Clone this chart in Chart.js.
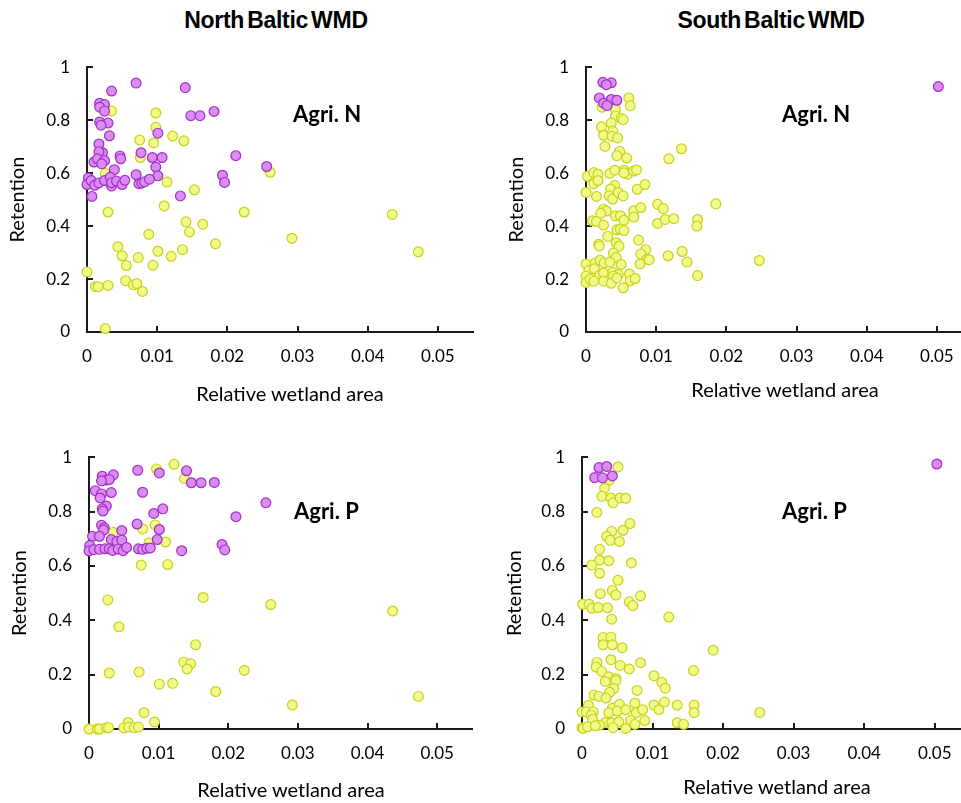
<!DOCTYPE html>
<html>
<head>
<meta charset="utf-8">
<title>Retention vs relative wetland area</title>
<script src="https://cdn.jsdelivr.net/npm/chart.js@4.4.1/dist/chart.umd.min.js"></script>
<style>
  body { margin: 0; width: 961px; height: 803px; overflow: hidden; background: #fff; position: relative; font-family: Lato, sans-serif; }
  canvas { position: absolute; }
  .title { position: absolute; font-family: 'Liberation Sans', Arial, sans-serif; font-weight: bold; font-size: 23px; word-spacing: -3px; letter-spacing: -0.3px; transform: translate(-50%, -50%); white-space: nowrap; color: #000; }
  .tag { position: absolute; font-family: Lato, sans-serif; font-weight: bold; font-size: 22px; line-height: 22px; white-space: nowrap; color: #000; }
  .xtitle { position: absolute; font-family: Lato, sans-serif; font-size: 20px; line-height: 24px; transform: translate(-50%, -50%); white-space: nowrap; color: #000; }
</style>
</head>
<body>

<div class="title" style="left:276px; top:20px;">North Baltic WMD</div>
<div class="title" style="left:771px; top:20px;">South Baltic WMD</div>

<canvas id="northN" width="480" height="380" style="left:0px; top:40px;"></canvas>
<canvas id="southN" width="490" height="380" style="left:490px; top:40px;"></canvas>
<canvas id="northP" width="480" height="373" style="left:0px; top:430px;"></canvas>
<canvas id="southP" width="490" height="373" style="left:490px; top:430px;"></canvas>

<div class="tag" style="left:293px; top:103px;">Agri. N</div>
<div class="tag" style="left:782px; top:103px;">Agri. N</div>
<div class="tag" style="left:294px; top:500px;">Agri. P</div>
<div class="tag" style="left:782px; top:500px;">Agri. P</div>

<div class="xtitle" style="left:290px; top:393px;">Relative wetland area</div>
<div class="xtitle" style="left:785px; top:389px;">Relative wetland area</div>
<div class="xtitle" style="left:291px; top:789px;">Relative wetland area</div>
<div class="xtitle" style="left:777px; top:786px;">Relative wetland area</div>

<script>
// tick labels
const xTicks = [0, 0.01, 0.02, 0.03, 0.04, 0.05];
const yTicks = [0, 0.2, 0.4, 0.6, 0.8, 1];

// [relative wetland area, retention]
// purple = high retention group, yellow = the rest

// North Baltic, Agri. N
const northN_purple = [
  [0.0070,0.940],[0.0140,0.923],[0.0035,0.910],[0.0018,0.864],[0.0025,0.859],[0.0018,0.849],
  [0.0025,0.834],[0.0148,0.817],[0.0161,0.817],[0.0181,0.833],[0.0018,0.793],[0.0030,0.789],
  [0.0020,0.781],[0.0101,0.751],[0.0032,0.741],[0.0017,0.710],[0.0022,0.677],[0.0017,0.681],
  [0.0010,0.642],[0.0015,0.654],[0.0025,0.647],[0.0021,0.635],[0.0047,0.665],[0.0048,0.654],
  [0.0077,0.677],[0.0093,0.659],[0.0107,0.659],[0.0098,0.623],[0.0039,0.613],[0.0212,0.666],
  [0.0256,0.625],[0.0070,0.594],[0.0101,0.590],[0.0193,0.592],[0.0196,0.565],[0.0002,0.582],
  [0.0000,0.557],[0.0006,0.572],[0.0011,0.554],[0.0017,0.563],[0.0025,0.572],[0.0033,0.584],
  [0.0035,0.551],[0.0035,0.564],[0.0042,0.570],[0.0050,0.557],[0.0054,0.573],[0.0074,0.560],
  [0.0078,0.563],[0.0082,0.567],[0.0089,0.577],[0.0007,0.512],[0.0133,0.514]
];
const northN_yellow = [
  [0.0035,0.835],[0.0098,0.827],[0.0098,0.773],[0.0075,0.725],[0.0095,0.714],[0.0122,0.740],
  [0.0138,0.722],[0.0076,0.659],[0.0026,0.599],[0.0114,0.566],[0.0153,0.537],[0.0030,0.453],
  [0.0110,0.476],[0.0224,0.453],[0.0141,0.416],[0.0165,0.407],[0.0146,0.378],[0.0088,0.369],
  [0.0183,0.333],[0.0044,0.322],[0.0101,0.305],[0.0136,0.311],[0.0120,0.286],[0.0050,0.288],
  [0.0073,0.281],[0.0056,0.251],[0.0094,0.252],[0.0000,0.227],[0.0055,0.194],[0.0066,0.178],
  [0.0071,0.183],[0.0079,0.153],[0.0012,0.171],[0.0016,0.171],[0.0030,0.176],[0.0026,0.013],
  [0.0261,0.603],[0.0292,0.354],[0.0435,0.444],[0.0472,0.303]
];

// South Baltic, Agri. N
const southN_purple = [
  [0.0024,0.943],[0.0036,0.941],[0.0029,0.934],[0.0019,0.884],[0.0036,0.878],[0.0044,0.875],
  [0.0025,0.864],[0.0030,0.855],[0.0502,0.927]
];
const southN_yellow = [
  [0.0061,0.884],[0.0063,0.854],[0.0023,0.849],[0.0042,0.842],[0.0042,0.816],[0.0050,0.807],
  [0.0053,0.802],[0.0036,0.789],[0.0022,0.775],[0.0038,0.758],[0.0025,0.743],[0.0037,0.739],
  [0.0045,0.733],[0.0027,0.701],[0.0048,0.683],[0.0044,0.666],[0.0058,0.657],[0.0136,0.692],
  [0.0118,0.654],[0.0002,0.588],[0.0011,0.602],[0.0017,0.596],[0.0011,0.560],[0.0017,0.572],
  [0.0034,0.599],[0.0041,0.611],[0.0054,0.611],[0.0059,0.596],[0.0054,0.601],[0.0068,0.608],
  [0.0072,0.612],[0.0000,0.527],[0.0015,0.512],[0.0041,0.554],[0.0035,0.540],[0.0033,0.514],
  [0.0038,0.502],[0.0046,0.527],[0.0053,0.514],[0.0073,0.539],[0.0084,0.557],[0.0102,0.482],
  [0.0110,0.466],[0.0185,0.484],[0.0025,0.464],[0.0029,0.457],[0.0021,0.448],[0.0042,0.439],
  [0.0049,0.439],[0.0054,0.422],[0.0068,0.458],[0.0068,0.434],[0.0078,0.470],[0.0009,0.420],
  [0.0015,0.417],[0.0025,0.404],[0.0044,0.386],[0.0049,0.388],[0.0054,0.383],[0.0102,0.410],
  [0.0113,0.425],[0.0125,0.428],[0.0159,0.425],[0.0158,0.400],[0.0031,0.361],[0.0018,0.331],
  [0.0019,0.325],[0.0043,0.337],[0.0047,0.324],[0.0075,0.347],[0.0039,0.298],[0.0043,0.281],
  [0.0085,0.311],[0.0078,0.295],[0.0087,0.275],[0.0090,0.273],[0.0077,0.257],[0.0117,0.288],
  [0.0137,0.304],[0.0144,0.264],[0.0000,0.257],[0.0013,0.261],[0.0020,0.271],[0.0026,0.261],
  [0.0034,0.264],[0.0050,0.255],[0.0004,0.233],[0.0012,0.239],[0.0019,0.213],[0.0025,0.223],
  [0.0038,0.225],[0.0046,0.217],[0.0039,0.211],[0.0000,0.211],[0.0000,0.187],[0.0006,0.199],
  [0.0011,0.192],[0.0025,0.192],[0.0036,0.184],[0.0044,0.204],[0.0062,0.219],[0.0063,0.194],
  [0.0070,0.202],[0.0053,0.167],[0.0159,0.213],[0.0247,0.270]
];

// North Baltic, Agri. P
const northP_purple = [
  [0.0070,0.952],[0.0101,0.942],[0.0140,0.950],[0.0019,0.930],[0.0035,0.935],[0.0025,0.916],
  [0.0029,0.918],[0.0018,0.913],[0.0147,0.906],[0.0161,0.906],[0.0180,0.907],[0.0009,0.877],
  [0.0018,0.865],[0.0032,0.870],[0.0016,0.850],[0.0077,0.871],[0.0025,0.820],[0.0019,0.810],
  [0.0020,0.802],[0.0106,0.810],[0.0093,0.793],[0.0211,0.781],[0.0254,0.832],[0.0018,0.750],
  [0.0022,0.740],[0.0021,0.732],[0.0047,0.730],[0.0069,0.754],[0.0101,0.734],[0.0005,0.709],
  [0.0015,0.709],[0.0032,0.697],[0.0040,0.690],[0.0047,0.695],[0.0098,0.697],[0.0001,0.675],
  [0.0191,0.679],[0.0195,0.659],[0.0000,0.655],[0.0007,0.660],[0.0015,0.661],[0.0023,0.663],
  [0.0029,0.663],[0.0034,0.657],[0.0042,0.662],[0.0049,0.656],[0.0054,0.668],[0.0071,0.663],
  [0.0077,0.661],[0.0083,0.665],[0.0088,0.666],[0.0133,0.656]
];
const northP_yellow = [
  [0.0097,0.957],[0.0122,0.974],[0.0137,0.922],[0.0035,0.724],[0.0077,0.736],[0.0095,0.751],
  [0.0086,0.685],[0.0110,0.688],[0.0075,0.603],[0.0113,0.605],[0.0027,0.475],[0.0164,0.484],
  [0.0043,0.376],[0.0153,0.310],[0.0136,0.246],[0.0146,0.240],[0.0141,0.221],[0.0029,0.206],
  [0.0072,0.210],[0.0223,0.216],[0.0101,0.165],[0.0120,0.168],[0.0182,0.138],[0.0079,0.060],
  [0.0094,0.026],[0.0056,0.024],[0.0000,0.000],[0.0012,0.000],[0.0015,0.000],[0.0025,0.005],
  [0.0028,0.005],[0.0050,0.004],[0.0057,0.007],[0.0065,0.005],[0.0071,0.007],[0.0261,0.458],
  [0.0436,0.434],[0.0292,0.088],[0.0473,0.120]
];

// South Baltic, Agri. P
const southP_purple = [
  [0.0024,0.962],[0.0035,0.966],[0.0018,0.925],[0.0029,0.924],[0.0043,0.931],[0.0503,0.975]
];
const southP_yellow = [
  [0.0051,0.964],[0.0039,0.916],[0.0032,0.886],[0.0028,0.856],[0.0041,0.850],[0.0044,0.832],
  [0.0054,0.850],[0.0062,0.849],[0.0021,0.797],[0.0068,0.756],[0.0042,0.727],[0.0058,0.731],
  [0.0035,0.709],[0.0040,0.694],[0.0053,0.690],[0.0025,0.661],[0.0025,0.621],[0.0038,0.619],
  [0.0014,0.603],[0.0070,0.611],[0.0025,0.573],[0.0051,0.547],[0.0026,0.498],[0.0043,0.510],
  [0.0048,0.493],[0.0083,0.490],[0.0067,0.468],[0.0072,0.454],[0.0001,0.459],[0.0010,0.459],
  [0.0014,0.444],[0.0023,0.447],[0.0036,0.446],[0.0042,0.404],[0.0123,0.412],[0.0030,0.337],
  [0.0041,0.338],[0.0030,0.310],[0.0043,0.310],[0.0057,0.299],[0.0186,0.290],[0.0021,0.245],
  [0.0041,0.255],[0.0020,0.228],[0.0028,0.212],[0.0054,0.234],[0.0067,0.221],[0.0083,0.244],
  [0.0158,0.215],[0.0038,0.192],[0.0048,0.186],[0.0033,0.175],[0.0048,0.178],[0.0102,0.196],
  [0.0113,0.172],[0.0118,0.150],[0.0045,0.149],[0.0039,0.135],[0.0017,0.125],[0.0024,0.120],
  [0.0034,0.114],[0.0078,0.142],[0.0009,0.087],[0.0000,0.063],[0.0006,0.063],[0.0016,0.063],
  [0.0013,0.050],[0.0043,0.076],[0.0053,0.091],[0.0038,0.060],[0.0050,0.066],[0.0062,0.071],
  [0.0075,0.095],[0.0077,0.060],[0.0086,0.071],[0.0102,0.088],[0.0109,0.071],[0.0117,0.099],
  [0.0135,0.088],[0.0159,0.088],[0.0159,0.060],[0.0069,0.032],[0.0089,0.031],[0.0135,0.023],
  [0.0144,0.017],[0.0015,0.036],[0.0033,0.024],[0.0042,0.023],[0.0052,0.026],[0.0025,0.014],
  [0.0044,0.005],[0.0062,0.002],[0.0075,0.017],[0.0000,0.005],[0.0002,0.002],[0.0008,0.008],
  [0.0019,0.012],[0.0252,0.061]
];

// draw the small tick marks on the inside of the axes, like the original
const innerTicks = {
  id: 'innerTicks',
  beforeDatasetsDraw(chart) {
    const { ctx, chartArea, scales } = chart;
    ctx.save();
    ctx.strokeStyle = '#1a1a1a';
    ctx.lineWidth = 2;
    ctx.beginPath();
    scales.x.ticks.forEach(t => {
      if (t.value === 0) return;
      const px = Math.round(scales.x.getPixelForValue(t.value));
      ctx.moveTo(px, chartArea.bottom);
      ctx.lineTo(px, chartArea.bottom - 6);
    });
    scales.y.ticks.forEach(t => {
      if (t.value === 0) return;
      const py = Math.round(scales.y.getPixelForValue(t.value));
      ctx.moveTo(chartArea.left, py);
      ctx.lineTo(chartArea.left + 6, py);
    });
    ctx.stroke();
    ctx.restore();
  }
};

function toPoints(pairs) {
  return pairs.map(p => ({ x: p[0], y: p[1] }));
}

function makePanel(id, purple, yellow, g) {
  const ctx = document.getElementById(id).getContext('2d');
  return new Chart(ctx, {
    type: 'scatter',
    data: {
      datasets: [
        {
          label: 'purple',
          data: toPoints(purple),
          backgroundColor: '#da8cf2',
          borderColor: '#a030c4',
          borderWidth: 1.2,
          pointRadius: 4.9,
          clip: false
        },
        {
          label: 'yellow',
          data: toPoints(yellow),
          backgroundColor: '#f3fa8c',
          borderColor: '#c6d218',
          borderWidth: 1.2,
          pointRadius: 4.9,
          clip: false
        }
      ]
    },
    options: {
      responsive: false,
      animation: false,
      layout: { padding: { top: g.padTop, right: g.padRight, left: 0, bottom: 0 } },
      plugins: {
        legend: { display: false },
        tooltip: { enabled: false }
      },
      scales: {
        x: {
          type: 'linear',
          min: 0,
          max: 0.055,
          afterBuildTicks: s => { s.ticks = xTicks.map(v => ({ value: v })); },
          afterFit: s => { s.height = g.xHeight; },
          ticks: {
            padding: 14,
            color: '#000',
            maxRotation: 0,
            autoSkip: false,
            font: { family: 'Lato', size: 17 },
            callback: v => String(v)
          },
          grid: { display: true, drawOnChartArea: false, drawTicks: false },
          border: { color: '#1a1a1a', width: 2 }
        },
        y: {
          type: 'linear',
          min: 0,
          max: 1,
          afterBuildTicks: s => { s.ticks = yTicks.map(v => ({ value: v })); },
          afterFit: s => { s.width = g.yWidth; },
          ticks: {
            padding: 17,
            color: '#000',
            font: { family: 'Lato', size: 17 },
            callback: v => String(v)
          },
          title: {
            display: true,
            text: 'Retention',
            color: '#000',
            font: { family: 'Lato', size: 20 },
            padding: { top: g.titlePad, bottom: 0 }
          },
          grid: { display: true, drawOnChartArea: false, drawTicks: false },
          border: { color: '#1a1a1a', width: 2 }
        }
      }
    },
    plugins: [innerTicks]
  });
}

makePanel('northN', northN_purple, northN_yellow, { yWidth: 87, xHeight: 88, padTop: 15, padRight: 7, titlePad: 6 });
makePanel('southN', southN_purple, southN_yellow, { yWidth: 96, xHeight: 88, padTop: 15, padRight: 8, titlePad: 15 });
makePanel('northP', northP_purple, northP_yellow, { yWidth: 89, xHeight: 74, padTop: 22, padRight: 8, titlePad: 8 });
makePanel('southP', southP_purple, southP_yellow, { yWidth: 92, xHeight: 74, padTop: 22, padRight: 10, titlePad: 13 });
</script>
</body>
</html>
